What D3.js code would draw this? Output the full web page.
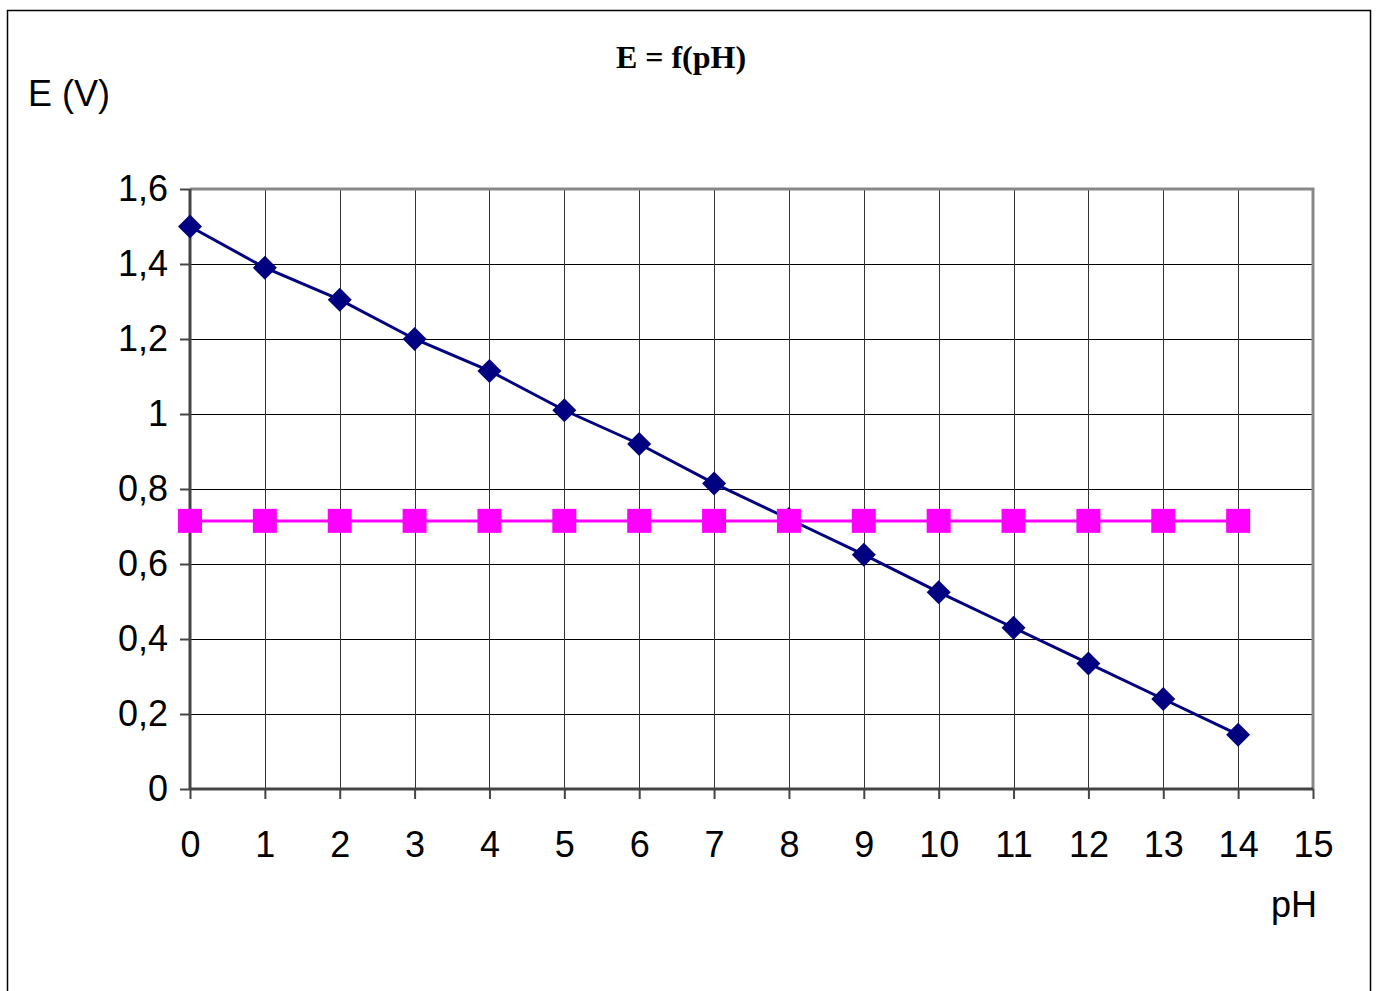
<!DOCTYPE html>
<html>
<head>
<meta charset="utf-8">
<script src="https://cdn.jsdelivr.net/npm/d3@7"></script>
<style>
	body { margin: 0; background: #fff; }
	text { font-family: "Liberation Sans", Arial, sans-serif; fill: #000; }
</style>
</head>
<body>
<script>
// values
var pH = [0, 1, 2, 3, 4, 5, 6, 7, 8, 9, 10, 11, 12, 13, 14];
var potential = [1.50, 1.39, 1.305, 1.20, 1.115, 1.01, 0.92, 0.815, 0.72, 0.625, 0.525, 0.43, 0.335, 0.24, 0.145];
var reference = [0.715, 0.715, 0.715, 0.715, 0.715, 0.715, 0.715, 0.715, 0.715, 0.715, 0.715, 0.715, 0.715, 0.715, 0.715];
var xTicks = [0, 1, 2, 3, 4, 5, 6, 7, 8, 9, 10, 11, 12, 13, 14, 15];
var yTicks = [0, 0.2, 0.4, 0.6, 0.8, 1, 1.2, 1.4, 1.6];

var width = 1378,
	height = 991;

var margin = {top: 189, right: 65, bottom: 202, left: 190};
var innerW = width - margin.left - margin.right,
	innerH = height - margin.top - margin.bottom;

var fmt = function(d) { return String(d).replace(".", ","); };

var svg = d3.select("body")
	.append("svg")
		.attr("width", width)
		.attr("height", height);

// outer frame
svg.append("rect")
	.attr("x", 7.5)
	.attr("y", 10.5)
	.attr("width", 1363)
	.attr("height", 1000)
	.attr("fill", "none")
	.attr("stroke", "#000")
	.attr("stroke-width", 1.5);

var x = d3.scaleLinear().domain([0, 15]).range([0, innerW]);
var y = d3.scaleLinear().domain([0, 1.6]).range([innerH, 0]);

var g = svg.append("g")
	.attr("transform", "translate(" + margin.left + "," + margin.top + ")");

// grid
g.append("g")
	.attr("class", "grid")
	.selectAll("line.h")
	.data(yTicks.slice(1, -1))
	.enter().append("line")
		.attr("x1", 0).attr("x2", innerW)
		.attr("y1", function(d) { return Math.round(y(d)) + 0.5; })
		.attr("y2", function(d) { return Math.round(y(d)) + 0.5; })
		.attr("stroke", "#000")
		.attr("stroke-width", 1);

g.append("g")
	.attr("class", "grid")
	.selectAll("line.v")
	.data(xTicks.slice(1, -1))
	.enter().append("line")
		.attr("y1", 0).attr("y2", innerH)
		.attr("x1", function(d) { return Math.round(x(d)) + 0.5; })
		.attr("x2", function(d) { return Math.round(x(d)) + 0.5; })
		.attr("stroke", "#333")
		.attr("stroke-width", 1);

// gray top and right border
g.append("path")
	.attr("d", "M0,0 H" + innerW + " V" + innerH)
	.attr("fill", "none")
	.attr("stroke", "#888")
	.attr("stroke-width", 3);

// axes
var xAxis = d3.axisBottom(x)
	.tickValues(xTicks)
	.tickSize(10)
	.tickPadding(32)
	.tickFormat(fmt);

var yAxis = d3.axisLeft(y)
	.tickValues(yTicks)
	.tickSize(10)
	.tickPadding(12)
	.tickFormat(fmt);

var gx = g.append("g")
	.attr("transform", "translate(0," + innerH + ")")
	.call(xAxis);

var gy = g.append("g")
	.call(yAxis);

[gx, gy].forEach(function(a) {
	a.select(".domain").attr("stroke", "#444").attr("stroke-width", 3);
	a.selectAll(".tick line").attr("stroke", "#444").attr("stroke-width", 2);
	a.selectAll(".tick text")
		.attr("font-family", "'Liberation Sans', Arial, sans-serif")
		.attr("font-size", 36)
		.attr("fill", "#000");
});
gx.selectAll(".domain").attr("d", "M0,0H" + innerW);
gy.selectAll(".domain").attr("d", "M0," + innerH + "V0");

// series
var blue = "#000080",
	magenta = "#ff00ff";

var line = d3.line()
	.x(function(d) { return x(d[0]); })
	.y(function(d) { return y(d[1]); });

var blueData = pH.map(function(p, i) { return [p, potential[i]]; });
var pinkData = pH.map(function(p, i) { return [p, reference[i]]; });

g.append("path")
	.datum(blueData)
	.attr("d", line)
	.attr("fill", "none")
	.attr("stroke", blue)
	.attr("stroke-width", 3);

g.selectAll("path.diamond")
	.data(blueData)
	.enter().append("path")
		.attr("class", "diamond")
		.attr("transform", function(d) { return "translate(" + x(d[0]) + "," + y(d[1]) + ")"; })
		.attr("d", "M0,-12 L12,0 L0,12 L-12,0 Z")
		.attr("fill", blue);

g.append("path")
	.datum(pinkData)
	.attr("d", line)
	.attr("fill", "none")
	.attr("stroke", magenta)
	.attr("stroke-width", 3);

g.selectAll("rect.square")
	.data(pinkData)
	.enter().append("rect")
		.attr("class", "square")
		.attr("x", function(d) { return x(d[0]) - 12; })
		.attr("y", function(d) { return y(d[1]) - 12; })
		.attr("width", 24)
		.attr("height", 24)
		.attr("fill", magenta);

// titles
svg.append("text")
	.attr("x", 681)
	.attr("y", 68)
	.attr("text-anchor", "middle")
	.style("font-family", "'Liberation Serif', 'Times New Roman', serif")
	.style("font-weight", "bold")
	.style("font-size", "32px")
	.text("E = f(pH)");

svg.append("text")
	.attr("x", 28)
	.attr("y", 106)
	.style("font-size", "36px")
	.text("E (V)");

svg.append("text")
	.attr("x", 1317)
	.attr("y", 917)
	.attr("text-anchor", "end")
	.style("font-size", "36px")
	.text("pH");
</script>
</body>
</html>
